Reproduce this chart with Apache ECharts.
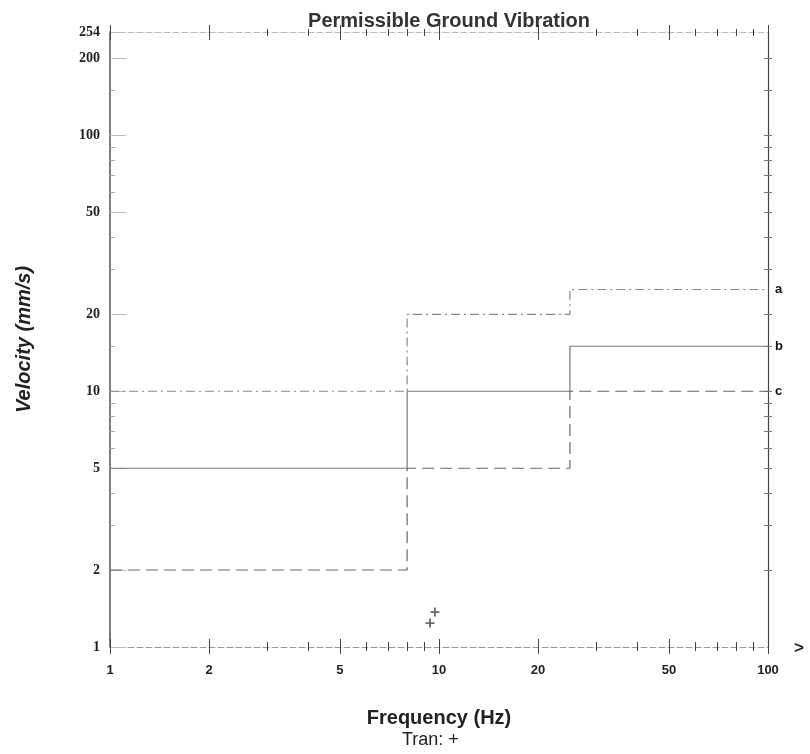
<!DOCTYPE html>
<html>
<head>
<meta charset="utf-8">
<script src="https://cdn.jsdelivr.net/npm/echarts@6/dist/echarts.min.js"></script>
<style>html,body{margin:0;padding:0;background:#fff;}#c{width:810px;height:754px;}</style>
</head>
<body>
<div id="c"></div>
<script>
// ---- data ----
var breakFreqs = [1, 8, 25, 100];          // Hz, segment boundaries
var levelsA = [10, 20, 25];                // mm/s, curve a
var levelsB = [5, 10, 15];                 // mm/s, curve b
var levelsC = [2, 5, 10];                  // mm/s, curve c
var tranPoints = [[9.72, 1.37], [9.39, 1.24]];
var xTickLabels = [1, 2, 5, 10, 20, 50, 100];
var xMinorTicks = [3, 4, 6, 7, 8, 9, 30, 40, 60, 70, 80, 90];
var yTickLabels = [1, 2, 5, 10, 20, 50, 100, 200, 254];
var yMinorTicks = [3, 4, 6, 7, 8, 9, 15, 30, 40, 60, 70, 80, 90, 150];
var rightTicks = [2, 3, 4, 5, 6, 7, 8, 9, 10, 15, 20, 30, 40, 50, 60, 70, 80, 90, 100, 150, 200];

function stepPoints(freqs, levels) {
  var pts = [];
  for (var i = 0; i < levels.length; i++) {
    pts.push([freqs[i], levels[i]]);
    pts.push([freqs[i + 1], levels[i]]);
  }
  return pts;
}

var chart = echarts.init(document.getElementById('c'));

function xAx(pos, ticks, inside, len, extra) {
  var o = {
    type: 'log', logBase: 10, min: 1, max: 100, position: pos,
    axisLine: { show: false },
    axisTick: { show: true, customValues: ticks, inside: inside, length: len, lineStyle: { color: '#444', width: 1 } },
    axisLabel: { show: false },
    splitLine: { show: false }, minorTick: { show: false }
  };
  return Object.assign(o, extra || {});
}
function yAx(pos, ticks, inside, len, color, extra) {
  var o = {
    type: 'log', logBase: 10, min: 1, max: 254, position: pos,
    axisLine: { show: false },
    axisTick: { show: true, customValues: ticks, inside: inside, length: len, lineStyle: { color: color, width: 1 } },
    axisLabel: { show: false },
    splitLine: { show: false }, minorTick: { show: false }
  };
  return Object.assign(o, extra || {});
}

var labelFontX = { show: true, customValues: xTickLabels, margin: 17, color: '#222', fontSize: 13, fontWeight: 'bold', fontFamily: 'Liberation Sans' };

var xAxes = [
  xAx('bottom', xTickLabels, true, 8, {
    axisLine: { show: true, onZero: false, lineStyle: { color: '#999', type: [6, 3], width: 1 } },
    axisLabel: labelFontX,
    name: 'Frequency (Hz)', nameLocation: 'middle', nameGap: 61,
    nameTextStyle: { fontSize: 20, fontWeight: 'bold', color: '#222', fontFamily: 'Liberation Sans' }
  }),
  xAx('bottom', xTickLabels, false, 7),
  xAx('bottom', xMinorTicks, true, 5),
  xAx('bottom', xMinorTicks, false, 4),
  xAx('top', xTickLabels, true, 8, {
    axisLine: { show: true, onZero: false, lineStyle: { color: '#bbb', type: [6, 3], width: 1 } }
  }),
  xAx('top', xTickLabels, false, 7),
  xAx('top', xMinorTicks, true, 4),
  xAx('top', xMinorTicks, false, 3)
];

var yAxes = [
  yAx('left', yTickLabels, true, 16, '#bbb', {
    axisLine: { show: true, onZero: false, lineStyle: { color: '#555', width: 1.5 } },
    axisLabel: { show: true, customValues: yTickLabels, margin: 10, color: '#222', fontSize: 14, fontWeight: 'bold', fontFamily: 'Liberation Serif' },
    name: 'Velocity (mm/s)', nameLocation: 'middle', nameGap: 76, nameRotate: 90,
    nameTextStyle: { fontSize: 20, fontWeight: 'bold', fontStyle: 'italic', color: '#222', fontFamily: 'Liberation Sans' }
  }),
  yAx('left', yMinorTicks, true, 5, '#aaa'),
  yAx('right', rightTicks, true, 4, '#777', {
    axisLine: { show: true, onZero: false, lineStyle: { color: '#444', width: 1.2 } }
  }),
  yAx('right', rightTicks, false, 4, '#777')
];

function lineSeries(name, levels, color, type) {
  return {
    name: name, type: 'line', xAxisIndex: 0, yAxisIndex: 0,
    data: stepPoints(breakFreqs, levels),
    symbol: 'none', silent: true,
    lineStyle: { color: color, width: 1.2, type: type },
    endLabel: { show: true, formatter: '{a}', distance: 7, color: '#111', fontSize: 13, fontWeight: 'bold', fontFamily: 'Liberation Sans' }
  };
}

var option = {
  animation: false,
  backgroundColor: '#fff',
  title: {
    text: 'Permissible Ground Vibration', left: 444, top: 6, textAlign: 'center',
    textStyle: { fontSize: 20, fontWeight: 'bold', color: '#333', fontFamily: 'Liberation Sans' }
  },
  grid: { left: 110, right: 42, top: 32, bottom: 107 },
  xAxis: xAxes,
  yAxis: yAxes,
  graphic: [
    { type: 'text', left: 402, top: 731, style: { text: 'Tran: +', fontSize: 18, fill: '#222', fontFamily: 'Liberation Sans' } },
    { type: 'text', left: 794, top: 640, style: { text: '>', fontSize: 17, fontWeight: 'bold', fill: '#222', fontFamily: 'Liberation Sans' } }
  ],
  series: [
    lineSeries('a', levelsA, '#888', [9, 4, 2, 4]),
    lineSeries('b', levelsB, '#777', 'solid'),
    lineSeries('c', levelsC, '#666', [12, 6]),
    {
      name: 'Tran', type: 'scatter', xAxisIndex: 0, yAxisIndex: 0,
      data: tranPoints,
      symbol: 'path://M4,0h2v4h4v2h-4v4h-2v-4h-4v-2h4z', symbolSize: 9,
      itemStyle: { color: '#444' }
    }
  ]
};
chart.setOption(option);
</script>
</body>
</html>
